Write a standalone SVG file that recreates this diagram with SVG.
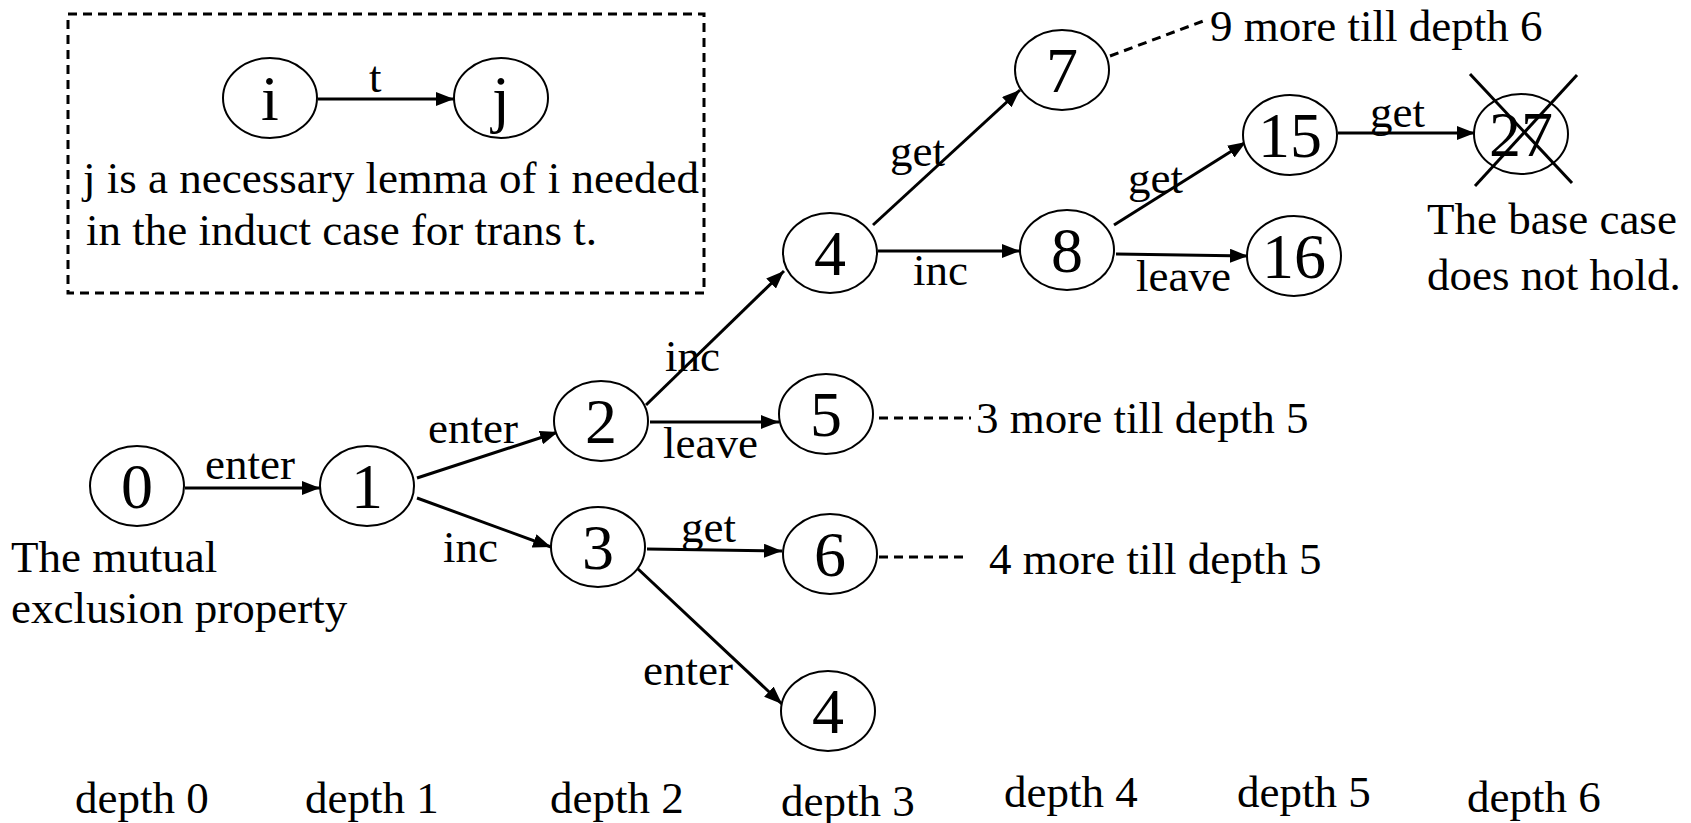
<svg xmlns="http://www.w3.org/2000/svg" width="1691" height="823" viewBox="0 0 1691 823" font-family="'Liberation Serif', 'Times New Roman', Times, serif">
<style>
  text { font-family: 'Liberation Serif', 'Times New Roman', Times, serif; fill: #000; }
  .lbl { font-size: 45px; }
  .num { font-size: 64px; text-anchor: middle; }
  .node ellipse { fill: #fff; stroke: #000; stroke-width: 2; }
  .edge { stroke: #000; stroke-width: 3; fill: none; marker-end: url(#arrow); }
  .dash { stroke: #000; stroke-width: 3; fill: none; stroke-dasharray: 9 6; }
</style>
<defs>
  <marker id="arrow" markerUnits="userSpaceOnUse" markerWidth="18" markerHeight="14" refX="18" refY="7" orient="auto">
    <path d="M0,0 L18,7 L0,14 Z" fill="#000"/>
  </marker>
</defs>
<rect width="1691" height="823" fill="#fff"/>

<g id="legend">
  <rect x="68" y="14" width="636" height="279" class="dash"/>
  <g id="node-i" class="node"><ellipse cx="270" cy="98" rx="47" ry="40"/><text class="num" x="270" y="120">i</text></g>
  <g id="node-j" class="node"><ellipse cx="501" cy="98" rx="47" ry="40"/><text class="num" x="501" y="120">j</text></g>
  <line x1="318" y1="99" x2="454" y2="99" class="edge"/>
  <text class="lbl" x="369" y="92">t</text>
  <text class="lbl" x="83" y="193">j is a necessary lemma of i needed</text>
  <text class="lbl" x="86" y="245">in the induct case for trans t.</text>
</g>

<g id="connectors">
  <line x1="185" y1="488" x2="320" y2="488" class="edge"/>
  <line x1="417" y1="478" x2="558" y2="432" class="edge"/>
  <line x1="417" y1="498" x2="551" y2="547" class="edge"/>
  <line x1="646" y1="405" x2="784" y2="271" class="edge"/>
  <line x1="650" y1="422" x2="779" y2="422" class="edge"/>
  <line x1="647" y1="549" x2="782" y2="551" class="edge"/>
  <line x1="637" y1="568" x2="782" y2="704" class="edge"/>
  <line x1="873" y1="225" x2="1020" y2="90" class="edge"/>
  <line x1="878" y1="251" x2="1020" y2="251" class="edge"/>
  <line x1="1114" y1="225" x2="1246" y2="142" class="edge"/>
  <line x1="1116" y1="254" x2="1248" y2="256" class="edge"/>
  <line x1="1338" y1="133" x2="1475" y2="133" class="edge"/>
  <line x1="1110" y1="56" x2="1206" y2="20" class="dash"/>
  <line x1="879" y1="418" x2="971" y2="418" class="dash"/>
  <line x1="879" y1="557" x2="963" y2="557" class="dash"/>
</g>

<g id="edge-labels">
  <text class="lbl" x="205" y="479">enter</text>
  <text class="lbl" x="428" y="443">enter</text>
  <text class="lbl" x="443" y="562">inc</text>
  <text class="lbl" x="665" y="371">inc</text>
  <text class="lbl" x="663" y="458">leave</text>
  <text class="lbl" x="681" y="542">get</text>
  <text class="lbl" x="643" y="685">enter</text>
  <text class="lbl" x="890" y="166">get</text>
  <text class="lbl" x="913" y="285">inc</text>
  <text class="lbl" x="1128" y="193">get</text>
  <text class="lbl" x="1136" y="291">leave</text>
  <text class="lbl" x="1370" y="127">get</text>
</g>

<g id="node-0" class="node"><ellipse cx="137" cy="486" rx="47" ry="40"/><text class="num" x="137" y="508">0</text></g>
<g id="node-1" class="node"><ellipse cx="367" cy="486" rx="47" ry="40"/><text class="num" x="367" y="508">1</text></g>
<g id="node-2" class="node"><ellipse cx="601" cy="421" rx="47" ry="40"/><text class="num" x="601" y="443">2</text></g>
<g id="node-3" class="node"><ellipse cx="598" cy="547" rx="47" ry="40"/><text class="num" x="598" y="569">3</text></g>
<g id="node-4a" class="node"><ellipse cx="830" cy="253" rx="47" ry="40"/><text class="num" x="830" y="275">4</text></g>
<g id="node-5" class="node"><ellipse cx="826" cy="414" rx="47" ry="40"/><text class="num" x="826" y="436">5</text></g>
<g id="node-6" class="node"><ellipse cx="830" cy="554" rx="47" ry="40"/><text class="num" x="830" y="576">6</text></g>
<g id="node-4b" class="node"><ellipse cx="828" cy="711" rx="47" ry="40"/><text class="num" x="828" y="733">4</text></g>
<g id="node-7" class="node"><ellipse cx="1062" cy="70" rx="47" ry="40"/><text class="num" x="1062" y="92">7</text></g>
<g id="node-8" class="node"><ellipse cx="1067" cy="250" rx="47" ry="40"/><text class="num" x="1067" y="272">8</text></g>
<g id="node-15" class="node"><ellipse cx="1290" cy="135" rx="47" ry="40"/><text class="num" x="1290" y="157">15</text></g>
<g id="node-16" class="node"><ellipse cx="1294" cy="256" rx="47" ry="40"/><text class="num" x="1294" y="278">16</text></g>
<g id="node-27" class="node"><ellipse cx="1521" cy="134" rx="47" ry="40"/><text class="num" x="1521" y="156">27</text>
  <line x1="1470" y1="74" x2="1572" y2="183" stroke="#000" stroke-width="3"/>
  <line x1="1577" y1="75" x2="1475" y2="186" stroke="#000" stroke-width="3"/>
</g>

<g id="annotations">
  <text class="lbl" x="11" y="572">The mutual</text>
  <text class="lbl" x="11" y="623">exclusion property</text>
  <text class="lbl" x="1210" y="41">9 more till depth 6</text>
  <text class="lbl" x="976" y="433">3 more till depth 5</text>
  <text class="lbl" x="989" y="574">4 more till depth 5</text>
  <text class="lbl" x="1427" y="234">The base case</text>
  <text class="lbl" x="1427" y="290">does not hold.</text>
</g>

<g id="depths">
  <text class="lbl" x="75" y="813">depth 0</text>
  <text class="lbl" x="305" y="813">depth 1</text>
  <text class="lbl" x="550" y="813">depth 2</text>
  <text class="lbl" x="781" y="816">depth 3</text>
  <text class="lbl" x="1004" y="807">depth 4</text>
  <text class="lbl" x="1237" y="807">depth 5</text>
  <text class="lbl" x="1467" y="812">depth 6</text>
</g>
</svg>
